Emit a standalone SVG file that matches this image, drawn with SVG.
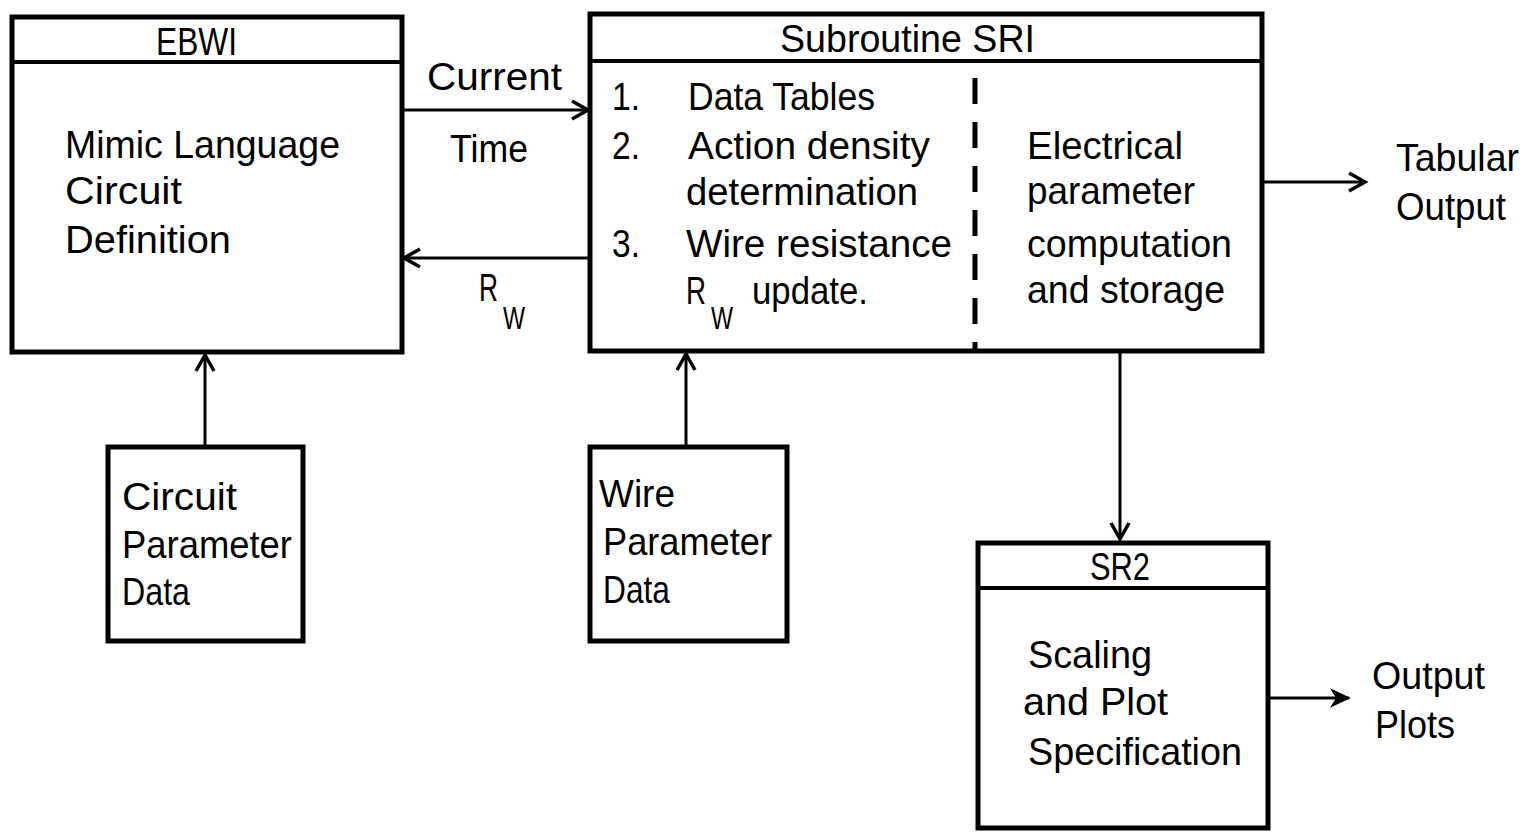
<svg xmlns="http://www.w3.org/2000/svg" width="1530" height="833" viewBox="0 0 1530 833">
<style>
.box{fill:none;stroke:#000;stroke-width:5}
.sep{stroke:#000;stroke-width:4}
.con{stroke:#000;stroke-width:3;fill:none}
text{font-family:"Liberation Sans",Arial,sans-serif;font-size:39px;fill:#000}
.sub{font-size:31px}
</style>
<defs>
<marker id="open" markerUnits="userSpaceOnUse" markerWidth="30" markerHeight="30" refX="0" refY="0" viewBox="-20 -15 25 30" orient="auto">
<path d="M-16,-9 L0,0 L-16,9" fill="none" stroke="#000" stroke-width="3.5"/>
</marker>
<marker id="solid" markerUnits="userSpaceOnUse" markerWidth="30" markerHeight="30" refX="0" refY="0" viewBox="-20 -15 25 30" orient="auto">
<path d="M-17,-8 L0,0 L-17,8 L-12,0 Z" fill="#000" stroke="#000" stroke-width="1.5"/>
</marker>
</defs>
<rect width="1530" height="833" fill="#fff"/>
<g id="connectors">
<line class="con" x1="403" y1="110" x2="588" y2="110" marker-end="url(#open)"/>
<line class="con" x1="589" y1="258" x2="404" y2="258" marker-end="url(#open)"/>
<line class="con" x1="205" y1="446" x2="205" y2="355" marker-end="url(#open)"/>
<line class="con" x1="686" y1="446" x2="686" y2="354" marker-end="url(#open)"/>
<line class="con" x1="1120" y1="352" x2="1120" y2="539" marker-end="url(#open)"/>
<line class="con" x1="1263" y1="182" x2="1365" y2="182" marker-end="url(#open)"/>
<line class="con" x1="1270" y1="698" x2="1349" y2="698" marker-end="url(#solid)"/>
<text x="427" y="90" textLength="135" lengthAdjust="spacingAndGlyphs">Current</text>
<text x="450" y="162" textLength="78" lengthAdjust="spacingAndGlyphs">Time</text>
<text x="479" y="301" textLength="19" lengthAdjust="spacingAndGlyphs">R</text>
<text x="503" y="329" class="sub" textLength="22" lengthAdjust="spacingAndGlyphs">W</text>
<text x="1396" y="171" textLength="123" lengthAdjust="spacingAndGlyphs">Tabular</text>
<text x="1396" y="220" textLength="110" lengthAdjust="spacingAndGlyphs">Output</text>
<text x="1372" y="689" textLength="113" lengthAdjust="spacingAndGlyphs">Output</text>
<text x="1375" y="738" textLength="80" lengthAdjust="spacingAndGlyphs">Plots</text>
</g>
<g id="ebwi">
<rect class="box" x="12" y="17" width="390" height="335"/>
<line class="sep" x1="12" y1="62" x2="402" y2="62"/>
<text x="156" y="55" textLength="81" lengthAdjust="spacingAndGlyphs">EBWI</text>
<text x="65" y="158" textLength="275" lengthAdjust="spacingAndGlyphs">Mimic Language</text>
<text x="65" y="204" textLength="117" lengthAdjust="spacingAndGlyphs">Circuit</text>
<text x="65" y="253" textLength="166" lengthAdjust="spacingAndGlyphs">Definition</text>
</g>
<g id="sr1">
<rect class="box" x="590" y="14" width="672" height="337"/>
<line class="sep" x1="590" y1="61" x2="1262" y2="61"/>
<line x1="975" y1="78" x2="975" y2="350" stroke="#000" stroke-width="5" stroke-dasharray="26 18"/>
<text x="780" y="52" textLength="255" lengthAdjust="spacingAndGlyphs">Subroutine SRI</text>
<text x="612" y="110" textLength="28" lengthAdjust="spacingAndGlyphs">1.</text>
<text x="688" y="110" textLength="187" lengthAdjust="spacingAndGlyphs">Data Tables</text>
<text x="612" y="159" textLength="28" lengthAdjust="spacingAndGlyphs">2.</text>
<text x="688" y="159" textLength="242" lengthAdjust="spacingAndGlyphs">Action density</text>
<text x="686" y="205" textLength="232" lengthAdjust="spacingAndGlyphs">determination</text>
<text x="612" y="257" textLength="28" lengthAdjust="spacingAndGlyphs">3.</text>
<text x="686" y="257" textLength="266" lengthAdjust="spacingAndGlyphs">Wire resistance</text>
<text x="686" y="304" textLength="20" lengthAdjust="spacingAndGlyphs">R</text>
<text x="711" y="329" class="sub" textLength="22" lengthAdjust="spacingAndGlyphs">W</text>
<text x="752" y="304" textLength="116" lengthAdjust="spacingAndGlyphs">update.</text>
<text x="1027" y="159" textLength="156" lengthAdjust="spacingAndGlyphs">Electrical</text>
<text x="1027" y="204" textLength="168" lengthAdjust="spacingAndGlyphs">parameter</text>
<text x="1027" y="257" textLength="205" lengthAdjust="spacingAndGlyphs">computation</text>
<text x="1027" y="303" textLength="198" lengthAdjust="spacingAndGlyphs">and storage</text>
</g>
<g id="circuit-data">
<rect class="box" x="108" y="447" width="195" height="194"/>
<text x="122" y="510" textLength="115" lengthAdjust="spacingAndGlyphs">Circuit</text>
<text x="122" y="558" textLength="170" lengthAdjust="spacingAndGlyphs">Parameter</text>
<text x="122" y="605" textLength="68" lengthAdjust="spacingAndGlyphs">Data</text>
</g>
<g id="wire-data">
<rect class="box" x="590" y="447" width="197" height="194"/>
<text x="599" y="507" textLength="76" lengthAdjust="spacingAndGlyphs">Wire</text>
<text x="603" y="555" textLength="169" lengthAdjust="spacingAndGlyphs">Parameter</text>
<text x="603" y="603" textLength="67" lengthAdjust="spacingAndGlyphs">Data</text>
</g>
<g id="sr2">
<rect class="box" x="978" y="543" width="290" height="285"/>
<line class="sep" x1="978" y1="588" x2="1268" y2="588"/>
<text x="1090" y="580" textLength="60" lengthAdjust="spacingAndGlyphs">SR2</text>
<text x="1028" y="668" textLength="124" lengthAdjust="spacingAndGlyphs">Scaling</text>
<text x="1023" y="715" textLength="145" lengthAdjust="spacingAndGlyphs">and Plot</text>
<text x="1028" y="765" textLength="214" lengthAdjust="spacingAndGlyphs">Specification</text>
</g>
</svg>
